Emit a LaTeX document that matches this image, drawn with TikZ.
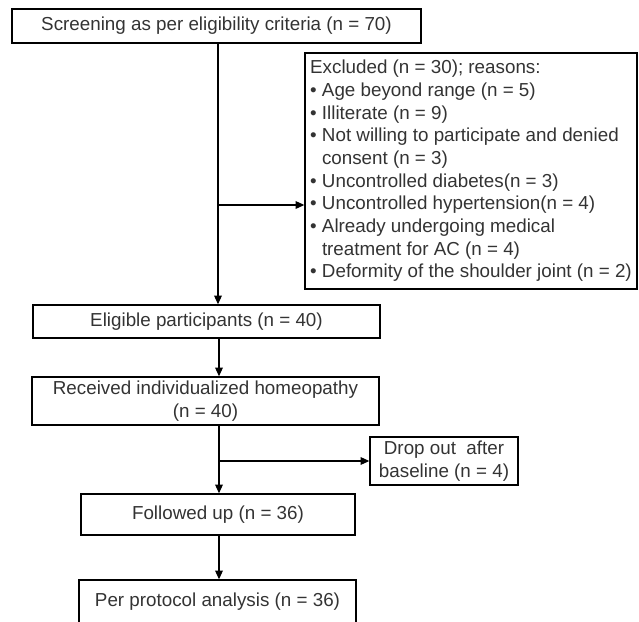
\documentclass[tikz,border=0pt]{standalone}
\usepackage{fontspec}
\setmainfont{Liberation Sans}
\usetikzlibrary{arrows.meta}
\usetikzlibrary{positioning}

\tikzset{
  flowbox/.style={draw, line width=0.8pt, inner sep=0pt, align=center, text=black!80,
    font=\fontsize{10.7}{12.9}\selectfont},
  flowarrow/.style={-{Triangle[length=5pt,width=4.4pt]}, line width=0.6pt},
}
\newcommand{\hang}{\phantom{\textbullet\ }}

\begin{document}
\begin{tikzpicture}[x=0.02cm, y=-0.02cm]
  \useasboundingbox (0,0) rectangle (639,622);
  \node[flowbox, minimum width=8.18cm, minimum height=0.68cm] (box_screen) at (216.5,26)
    {Screening as per eligibility criteria (n = 70)};
  \node[flowbox, minimum width=6.64cm, minimum height=4.72cm, align=left] (box_excl) at (471,171)
    {Excluded (n = 30); reasons:\\
     \textbullet\ Age beyond range (n = 5)\\
     \textbullet\ Illiterate (n = 9)\\
     \textbullet\ Not willing to participate and denied\\
     \hang consent (n = 3)\\
     \textbullet\ Uncontrolled diabetes(n = 3)\\
     \textbullet\ Uncontrolled hypertension(n = 4)\\
     \textbullet\ Already undergoing medical\\
     \hang treatment for AC (n = 4)\\
     \textbullet\ Deformity of the shoulder joint (n = 2)};
  \node[flowbox, minimum width=6.94cm, minimum height=0.66cm] (box_elig) at (206.5,321.5)
    {Eligible participants (n = 40)};
  \node[flowbox, minimum width=6.94cm, minimum height=0.96cm] (box_recv) at (205.5,401)
    {Received individualized homeopathy\\(n = 40)};
  \node[flowbox, minimum width=2.96cm, minimum height=0.96cm] (box_drop) at (444,461)
    {Drop out\ \ after\\baseline (n = 4)};
  \node[flowbox, minimum width=5.48cm, minimum height=0.82cm] (box_follow) at (218,514.5)
    {Followed up (n = 36)};
  \node[flowbox, minimum width=5.54cm, minimum height=0.88cm] (box_pp) at (217.5,602)
    {Per protocol analysis (n = 36)};

  \coordinate (c_excl) at (218,205); % split towards excluded
  \coordinate (c_drop) at (219,461); % split towards drop out
  \draw[flowarrow] (box_screen.south -| c_excl) -- (box_elig.north -| c_excl);
  \draw[flowarrow] (c_excl) -- (c_excl -| box_excl.west);
  \draw[flowarrow] (box_elig.south -| c_drop) -- (box_recv.north -| c_drop);
  \draw[flowarrow] (box_recv.south -| c_drop) -- (box_follow.north -| c_drop);
  \draw[flowarrow] (c_drop) -- (box_drop.west);
  \draw[flowarrow] (box_follow.south -| c_drop) -- (box_pp.north -| c_drop);
\end{tikzpicture}
\end{document}
